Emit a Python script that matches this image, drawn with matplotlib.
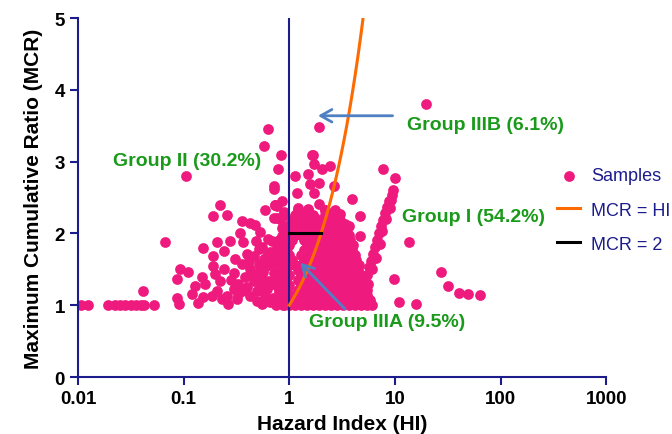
import matplotlib
matplotlib.use("Agg")
import matplotlib.pyplot as plt
from matplotlib.ticker import NullLocator
import numpy as np

plt.rcParams['font.family'] = ['Liberation Sans', 'DejaVu Sans']

pink = "#ef1a7e"
navy = "#1c1c8c"
green = "#1a9a1a"
arrow_blue = "#4f81c2"

# samples with HI below 0.05, mostly MCR = 1
tail_hi = [0.0108, 0.0125, 0.0194, 0.0224, 0.025, 0.028, 0.0316, 0.0355, 0.0397, 0.042, 0.053, 0.041]
tail_mcr = [1, 1, 1, 1, 1, 1, 1, 1, 1, 1, 1, 1.2]

# samples with HI < 1 (group II)
low_hi = [0.067, 0.086, 0.093, 0.086, 0.09, 0.106,
          0.219, 0.19, 0.26, 0.154, 0.206, 0.276, 0.19, 0.24,
          0.356, 0.427, 0.476, 0.343, 0.364, 0.53, 0.59, 0.737, 0.71, 0.82, 0.88, 0.71,
          0.111, 0.128, 0.149, 0.16, 0.12, 0.138,
          0.19, 0.2, 0.24, 0.222, 0.185, 0.206, 0.266, 0.26, 0.297, 0.33, 0.308, 0.397,
          0.46, 0.55, 0.636, 0.66, 0.764, 0.852,
          0.356, 0.427, 0.512, 0.57, 0.66, 0.79, 0.38, 0.46, 0.53, 0.636, 0.764, 0.88,
          0.356, 0.427, 0.49, 0.59, 0.66, 0.79, 0.88, 0.92, 0.92, 0.82, 0.23, 0.32, 0.154,
          0.63, 0.58, 0.84, 0.78, 0.72, 0.76, 0.76, 0.88, 0.85, 0.74, 0.85, 0.9,
          0.4, 0.45, 0.5, 0.55, 0.6, 0.62, 0.7, 0.72, 0.75, 0.7, 0.85, 0.95, 0.95, 0.95,
          0.9, 0.68, 0.58, 0.5, 0.42, 0.3, 0.33, 0.28, 0.55, 0.83, 0.86, 0.97, 0.97, 0.8,
          0.9, 0.75, 0.62, 0.52, 0.48]
low_mcr = [1.88, 1.36, 1.5, 1.1, 1.02, 2.8,
           2.39, 2.25, 2.26, 1.8, 1.88, 1.9, 1.69, 1.76,
           2.18, 2.15, 2.12, 2.0, 1.88, 2.02, 2.32, 2.39, 2.22, 2.2, 2.11, 2.62,
           1.46, 1.27, 1.39, 1.3, 1.16, 1.03,
           1.55, 1.43, 1.5, 1.34, 1.13, 1.2, 1.02, 1.13, 1.23, 1.3, 1.64, 1.71,
           1.69, 1.81, 1.92, 1.74, 1.81, 1.97,
           1.57, 1.5, 1.57, 1.46, 1.57, 1.57, 1.39, 1.34, 1.27, 1.34, 1.36, 1.43,
           1.2, 1.13, 1.06, 1.13, 1.04, 1.04, 1.13, 1.25, 1.64, 1.71, 1.09, 1.09, 1.11,
           3.46, 3.22, 3.09, 2.9, 2.66, 2.38, 2.22, 2.25, 2.08, 2.39, 2.45, 2.3,
           1.25, 1.42, 1.2, 1.35, 1.55, 1.22, 1.3, 1.45, 1.65, 1.1, 1.3, 1.05, 1.4, 1.8,
           1.9, 1.9, 1.65, 1.45, 1.62, 1.45, 1.15, 1.35, 1.02, 1.5, 1.82, 1.6, 1.25, 1.2,
           1.0, 1.0, 1.68, 1.78, 1.9]

# samples with HI > 1 and MCR above the dense block (group IIIB side)
high_hi = [1.9, 1.68, 1.66, 1.7, 1.14, 1.52, 2.04, 2.45, 1.9, 1.58, 2.63, 1.18, 1.7,
           3.93, 1.22, 1.52, 1.9, 2.19, 1.18, 1.42, 1.76, 2.54, 3.04, 3.39, 4.7, 3.65, 4.7, 19.5]
high_mcr = [3.48, 3.1, 3.09, 2.97, 2.8, 2.83, 2.9, 2.94, 2.71, 2.69, 2.66, 2.57, 2.57,
            2.48, 2.36, 2.34, 2.41, 2.32, 2.2, 2.2, 2.22, 2.2, 2.27, 2.13, 2.25, 2.11, 1.97, 3.8]

# isolated samples with large HI
far_hi = [7.8, 10.1, 13.5, 9.8, 11.0, 16.0, 27.5, 31.9, 40.7, 49.7, 64.5]
far_mcr = [2.9, 2.77, 1.88, 1.37, 1.04, 1.02, 1.46, 1.27, 1.17, 1.15, 1.14]

# narrow streak of samples rising from HI ~5 to ~9.5
streak_hi = [4.93, 5.24, 5.5, 5.7, 6.0, 6.25, 6.5, 6.8, 7.1, 7.45, 7.8, 8.1, 8.5, 8.85, 9.3, 9.5,
             5.1, 5.6, 6.1, 6.6, 7.2, 7.6, 8.3, 8.9, 9.2]
streak_mcr = [1.2, 1.32, 1.42, 1.53, 1.62, 1.71, 1.81, 1.91, 2.0, 2.1, 2.19, 2.28, 2.37, 2.45, 2.53, 2.6,
              1.14, 1.3, 1.5, 1.66, 1.86, 2.03, 2.2, 2.35, 2.47]

# dense block of samples just above HI = 1, one row per MCR level
mass_levels = [1.00, 1.07, 1.14, 1.21, 1.28, 1.35, 1.42, 1.49, 1.56, 1.63,
               1.70, 1.77, 1.84, 1.91, 1.98, 2.05, 2.12, 2.19, 2.26, 2.33]
mass_rows = [
    [0.87, 1.0, 1.14, 1.3, 1.48, 1.69, 1.93, 2.2, 2.5, 2.85, 3.25, 3.7, 4.2, 4.8, 5.5, 6.1],
    [0.8, 0.93, 1.22, 1.39, 1.58, 1.8, 2.05, 2.35, 2.68, 3.05, 3.48, 3.95, 4.5, 5.1, 5.8],
    [0.87, 1.0, 1.14, 1.3, 1.48, 1.69, 1.93, 2.2, 2.5, 2.85, 3.25, 3.7, 4.2, 4.8, 5.5],
    [0.8, 0.93, 1.22, 1.39, 1.58, 1.8, 2.05, 2.35, 2.68, 3.05, 3.48, 3.95, 4.5, 5.1, 5.4],
    [0.87, 1.0, 1.3, 1.48, 1.69, 1.93, 2.2, 2.5, 2.85, 3.25, 3.7, 4.2, 4.8, 5.2],
    [0.8, 0.93, 1.22, 1.39, 1.58, 1.8, 2.05, 2.35, 2.68, 3.05, 3.48, 3.95, 4.5, 5.1],
    [0.87, 1.0, 1.3, 1.48, 1.69, 1.93, 2.2, 2.5, 2.85, 3.25, 3.7, 4.2, 4.8],
    [0.8, 0.93, 1.22, 1.39, 1.58, 1.8, 2.05, 2.35, 2.68, 3.05, 3.48, 3.95, 4.5],
    [0.87, 1.0, 1.14, 1.3, 1.48, 1.69, 1.93, 2.2, 2.5, 2.85, 3.25, 3.7, 4.2, 4.6],
    [0.8, 0.93, 1.07, 1.39, 1.58, 1.8, 2.05, 2.35, 2.68, 3.05, 3.48, 3.95, 4.3],
    [0.87, 1.0, 1.3, 1.48, 1.69, 1.93, 2.2, 2.5, 2.85, 3.25, 3.7, 4.2],
    [0.8, 0.93, 1.39, 1.58, 1.8, 2.05, 2.35, 2.68, 3.05, 3.48, 3.95],
    [0.87, 1.0, 1.48, 1.69, 1.93, 2.2, 2.5, 2.85, 3.25, 3.7, 4.0],
    [0.8, 0.93, 1.07, 1.39, 1.58, 1.8, 2.05, 2.35, 2.68, 3.05, 3.48, 3.75],
    [0.87, 1.0, 1.14, 1.3, 1.48, 1.69, 1.93, 2.2, 2.5, 2.85, 3.25, 3.7],
    [1.07, 1.22, 1.39, 1.58, 1.8, 2.05, 2.35, 2.68, 3.05, 3.48],
    [1.0, 1.14, 1.3, 1.48, 1.69, 1.93, 2.2, 2.5, 2.85, 3.25, 3.4],
    [1.07, 1.39, 1.58, 2.05, 2.35, 2.68, 3.05],
    [1.14, 1.3, 1.69, 2.2, 2.5, 2.85],
    [1.22, 1.52, 2.19, 2.7],
]

mass_hi = [h for row in mass_rows for h in row]
mass_mcr = [lvl for lvl, row in zip(mass_levels, mass_rows) for _ in row]

hi = np.concatenate([tail_hi, low_hi, high_hi, far_hi, streak_hi, mass_hi])
mcr = np.concatenate([tail_mcr, low_mcr, high_mcr, far_mcr, streak_mcr, mass_mcr])

fig = plt.figure(figsize=(6.72, 4.35), dpi=100)
ax = fig.add_axes([0.116, 0.131, 0.786, 0.825])

ax.scatter(hi, mcr, s=60, color=pink, linewidths=0, zorder=2, label="Samples")

# reference lines
hi_ref = np.linspace(1, 5, 60)
ax.plot(hi_ref, hi_ref, color="#fd6a02", lw=2.2, zorder=4, label="MCR = HI")
ax.plot([1, 2], [2, 2], color="black", lw=2.2, zorder=4, label="MCR = 2")
ax.plot([1, 1], [0, 5], color=navy, lw=1.5, zorder=3)

ax.set_xscale("log")
ax.set_xlim(0.01, 1000)
ax.set_ylim(0, 5)
ax.set_xticks([0.01, 0.1, 1, 10, 100, 1000])
ax.set_xticklabels(["0.01", "0.1", "1", "10", "100", "1000"])
ax.xaxis.set_minor_locator(NullLocator())
ax.set_yticks([0, 1, 2, 3, 4, 5])

for side in ["top", "right"]:
    ax.spines[side].set_visible(False)
for side in ["left", "bottom"]:
    ax.spines[side].set_color(navy)
    ax.spines[side].set_linewidth(1.5)
ax.tick_params(axis="both", colors=navy, width=1.5, length=6, labelcolor="black", labelsize=13.5)
for lbl in ax.get_xticklabels() + ax.get_yticklabels():
    lbl.set_fontweight("bold")

ax.set_xlabel("Hazard Index (HI)", fontsize=15, fontweight="bold", labelpad=5)
ax.set_ylabel("Maximum Cumulative Ratio (MCR)", fontsize=15, fontweight="bold", labelpad=8)

# group labels
txt = dict(color=green, fontsize=14, fontweight="bold", va="center", ha="left", zorder=6)
ax.text(0.0213, 3.02, "Group II (30.2%)", **txt)
ax.text(13.0, 3.52, "Group IIIB (6.1%)", **txt)
ax.text(11.8, 2.23, "Group I (54.2%)", **txt)
ax.text(1.55, 0.77, "Group IIIA (9.5%)", **txt)

arrow = dict(arrowstyle="->,head_length=0.8,head_width=0.45", color=arrow_blue, lw=2)
ax.annotate("", xy=(1.76, 3.64), xytext=(10.1, 3.64), arrowprops=arrow, zorder=5)
ax.annotate("", xy=(1.22, 1.62), xytext=(3.52, 0.92), arrowprops=arrow, zorder=5)

ax.legend(loc="center left", bbox_to_anchor=(0.893, 0.465), frameon=False,
          fontsize=13, labelcolor=navy, handlelength=1.3, labelspacing=0.95,
          handletextpad=0.6, borderaxespad=0)

fig.savefig("out.png", dpi=100)
